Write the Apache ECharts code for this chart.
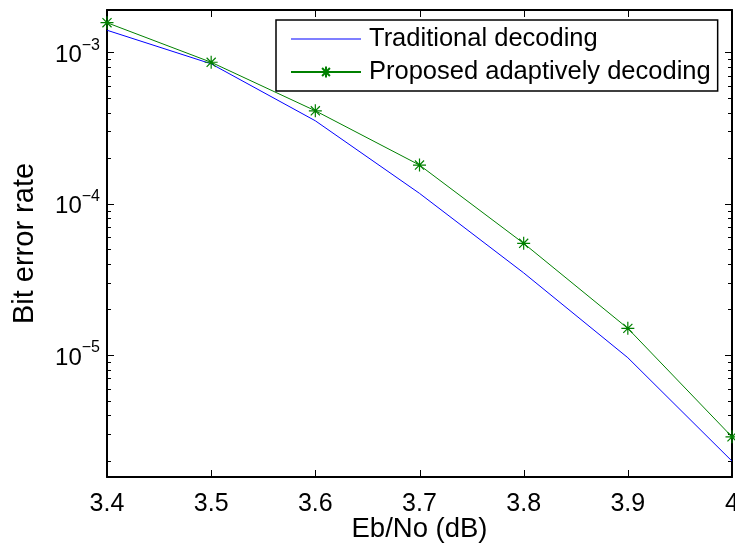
<!DOCTYPE html>
<html>
<head>
<meta charset="utf-8">
<script src="https://cdn.jsdelivr.net/npm/echarts@6/dist/echarts.min.js"></script>
<style>
  html, body { margin: 0; padding: 0; background: #fff; }
  #chart { width: 735px; height: 548px; }
</style>
</head>
<body>
<div id="chart"></div>
<script>
// Eb/No operating points (dB)
var ebNo = [3.4, 3.5, 3.6, 3.7, 3.8, 3.9, 4.0];
// Measured bit error rates
var traditionalBer = [1.40e-3, 8.4e-4, 3.53e-4, 1.17e-4, 3.49e-5, 9.6e-6, 1.99e-6];
var adaptiveBer    = [1.57e-3, 8.6e-4, 4.11e-4, 1.80e-4, 5.47e-5, 1.50e-5, 2.88e-6];
var seriesNames = ['Traditional decoding', 'Proposed adaptively decoding'];

// Axis ticks
var xTicks = [3.4, 3.5, 3.6, 3.7, 3.8, 3.9, 4.0];
var yDecades = [-3, -4, -5];               // labelled powers of ten
var yMinorMultipliers = [2, 3, 4, 5, 6, 7, 8, 9];
var yMinorDecades = [-6, -5, -4, -3];
var yRange = [1.563e-6, 1.905e-3];         // axis limits (BER)

var FONT = '"Liberation Sans", Arial, Helvetica, sans-serif';
var black = '#000';

function log10(v) { return Math.log(v) / Math.LN10; }

var xMin = xTicks[0];
var xMax = xTicks[xTicks.length - 1];
var yMin = log10(yRange[0]);
var yMax = log10(yRange[1]);

var minorTicks = [];
yMinorDecades.forEach(function (d) {
  yMinorMultipliers.forEach(function (m) {
    var v = log10(m) + d;
    if (v > yMin && v < yMax) minorTicks.push(v);
  });
});

function toPairs(xs, ys) {
  return xs.map(function (x, i) { return [x, log10(ys[i])]; });
}

// Inward tick marks on all four sides of the box: [side, value, isMajor]
// side: 0 bottom, 1 top, 2 left, 3 right
var SIDE_BOTTOM = 0, SIDE_TOP = 1, SIDE_LEFT = 2, SIDE_RIGHT = 3;
var boxTicks = [];
xTicks.forEach(function (v) {
  boxTicks.push([SIDE_BOTTOM, v, 1]);
  boxTicks.push([SIDE_TOP, v, 1]);
});
yDecades.forEach(function (v) {
  boxTicks.push([SIDE_LEFT, v, 1]);
  boxTicks.push([SIDE_RIGHT, v, 1]);
});
minorTicks.forEach(function (v) {
  boxTicks.push([SIDE_LEFT, v, 0]);
  boxTicks.push([SIDE_RIGHT, v, 0]);
});

var MAJOR_LEN = 7, MINOR_LEN = 4;

function renderBoxTick(params, api) {
  var side = api.value(0);
  var v = api.value(1);
  var len = api.value(2) ? MAJOR_LEN : MINOR_LEN;
  var p, shape;
  if (side === SIDE_BOTTOM) {
    p = api.coord([v, yMin]);
    var xb = Math.round(p[0]) + 0.5;
    shape = { x1: xb, y1: p[1], x2: xb, y2: p[1] - len };
  } else if (side === SIDE_TOP) {
    p = api.coord([v, yMax]);
    var xt = Math.round(p[0]) + 0.5;
    shape = { x1: xt, y1: p[1], x2: xt, y2: p[1] + len };
  } else if (side === SIDE_LEFT) {
    p = api.coord([xMin, v]);
    var yl = Math.round(p[1]) + 0.5;
    shape = { x1: p[0], y1: yl, x2: p[0] + len, y2: yl };
  } else {
    p = api.coord([xMax, v]);
    var yr = Math.round(p[1]) + 0.5;
    shape = { x1: p[0], y1: yr, x2: p[0] - len, y2: yr };
  }
  return { type: 'line', shape: shape, style: { stroke: black, lineWidth: 1 } };
}

// MATLAB-style asterisk marker
var asterisk = 'path://M0,5L10,5M5,0L5,10M1.5,1.5L8.5,8.5M1.5,8.5L8.5,1.5';

var frameLine = { show: true, onZero: false, lineStyle: { color: black, width: 2 } };

var chart = echarts.init(document.getElementById('chart'), null, { renderer: 'canvas' });

chart.setOption({
  animation: false,
  grid: { left: 107, right: 3, top: 10, bottom: 71, outerBoundsMode: 'none' },
  xAxis: [
    {
      type: 'value',
      position: 'bottom',
      min: xMin,
      max: xMax,
      axisLine: frameLine,
      axisTick: { show: false },
      splitLine: { show: false },
      axisLabel: {
        show: true,
        customValues: xTicks,
        margin: 15,
        fontFamily: FONT, fontSize: 25, color: black,
        formatter: function (v) { return String(+v.toFixed(1)); }
      },
      name: 'Eb/No (dB)',
      nameLocation: 'middle',
      nameGap: 38,
      nameMoveOverlap: false,
      nameTextStyle: { fontFamily: FONT, fontSize: 27.5, color: black }
    },
    {
      type: 'value',
      position: 'top',
      min: xMin,
      max: xMax,
      axisLine: { show: true, onZero: false, lineStyle: { color: black, width: 2 } },
      axisTick: { show: false },
      axisLabel: { show: false },
      splitLine: { show: false }
    }
  ],
  yAxis: [
    {
      type: 'value',
      position: 'left',
      min: yMin,
      max: yMax,
      axisLine: frameLine,
      axisTick: { show: false },
      splitLine: { show: false },
      axisLabel: {
        show: true,
        customValues: yDecades,
        margin: 7,
        formatter: function (v) {
          var e = Math.round(v);
          return '{b|10}{s|' + (e < 0 ? '\u2212' : '') + Math.abs(e) + '}';
        },
        rich: {
          b: { fontFamily: FONT, fontSize: 24, color: black, lineHeight: 30, verticalAlign: 'bottom' },
          s: { fontFamily: FONT, fontSize: 16, color: black, lineHeight: 30, verticalAlign: 'top', padding: [0, 0, 14, 0] }
        }
      },
      name: 'Bit error rate',
      nameLocation: 'middle',
      nameGap: 68,
      nameTextStyle: { fontFamily: FONT, fontSize: 29, color: black }
    },
    {
      type: 'value',
      position: 'right',
      min: yMin,
      max: yMax,
      axisLine: { show: true, onZero: false, lineStyle: { color: black, width: 2 } },
      axisTick: { show: false },
      axisLabel: { show: false },
      splitLine: { show: false }
    }
  ],
  legend: {
    orient: 'vertical',
    left: 276,
    top: 20,
    padding: [6, 7, 6, 14],
    itemGap: 7,
    itemWidth: 70,
    itemHeight: 14,
    borderColor: black,
    borderWidth: 1.5,
    backgroundColor: '#fff',
    textStyle: { fontFamily: FONT, fontSize: 25.5, color: black, lineHeight: 26, padding: [0, 0, 0, 3] },
    data: [
      { name: seriesNames[0], icon: 'path://M0,0H70V1.1H0Z' },
      { name: seriesNames[1] }
    ]
  },
  series: [
    {
      name: 'box ticks',
      type: 'custom',
      xAxisIndex: 0,
      yAxisIndex: 0,
      clip: false,
      silent: true,
      data: boxTicks,
      renderItem: renderBoxTick,
      z: 1
    },
    {
      name: seriesNames[0],
      type: 'line',
      xAxisIndex: 0,
      yAxisIndex: 0,
      data: toPairs(ebNo, traditionalBer),
      showSymbol: false,
      symbol: 'none',
      lineStyle: { color: '#0000ff', width: 1 },
      itemStyle: { color: '#0000ff' }
    },
    {
      name: seriesNames[1],
      type: 'line',
      xAxisIndex: 0,
      yAxisIndex: 0,
      data: toPairs(ebNo, adaptiveBer),
      symbol: asterisk,
      symbolSize: 13,
      showAllSymbol: true,
      clip: false,
      lineStyle: { color: '#008000', width: 1 },
      itemStyle: { color: '#008000', borderColor: '#008000', borderWidth: 1.2 }
    }
  ]
});
</script>
</body>
</html>
